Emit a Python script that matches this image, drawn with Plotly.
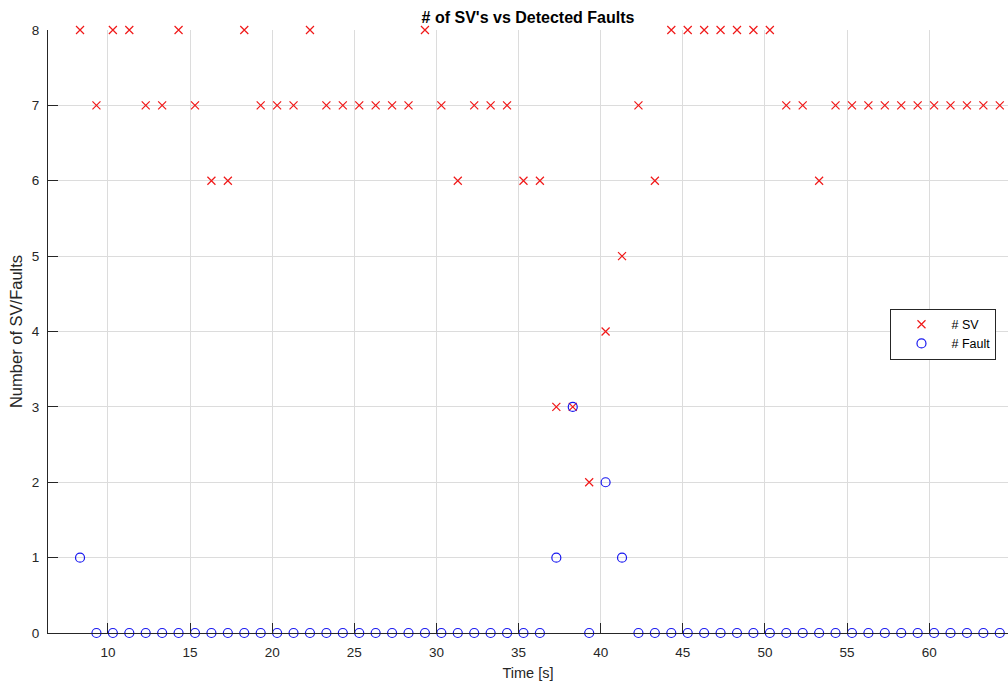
import plotly.graph_objects as go

time_s = [8.3, 9.3, 10.3, 11.3, 12.3, 13.3, 14.3, 15.3, 16.3, 17.3,
          18.3, 19.3, 20.3, 21.3, 22.3, 23.3, 24.3, 25.3, 26.3, 27.3,
          28.3, 29.3, 30.3, 31.3, 32.3, 33.3, 34.3, 35.3, 36.3, 37.3,
          38.3, 39.3, 40.3, 41.3, 42.3, 43.3, 44.3, 45.3, 46.3, 47.3,
          48.3, 49.3, 50.3, 51.3, 52.3, 53.3, 54.3, 55.3, 56.3, 57.3,
          58.3, 59.3, 60.3, 61.3, 62.3, 63.3, 64.3]

num_sv = [8, 7, 8, 8, 7, 7, 8, 7, 6, 6,
          8, 7, 7, 7, 8, 7, 7, 7, 7, 7,
          7, 8, 7, 6, 7, 7, 7, 6, 6, 3,
          3, 2, 4, 5, 7, 6, 8, 8, 8, 8,
          8, 8, 8, 7, 7, 6, 7, 7, 7, 7,
          7, 7, 7, 7, 7, 7, 7]

num_fault = [1, 0, 0, 0, 0, 0, 0, 0, 0, 0,
             0, 0, 0, 0, 0, 0, 0, 0, 0, 0,
             0, 0, 0, 0, 0, 0, 0, 0, 0, 1,
             3, 0, 2, 1, 0, 0, 0, 0, 0, 0,
             0, 0, 0, 0, 0, 0, 0, 0, 0, 0,
             0, 0, 0, 0, 0, 0, 0]

x_ticks = [10, 15, 20, 25, 30, 35, 40, 45, 50, 55, 60]
y_ticks = [0, 1, 2, 3, 4, 5, 6, 7, 8]

FONT = "Liberation Sans, Arial, Helvetica, sans-serif"
AX = "#262626"

fig = go.Figure()
fig.add_trace(go.Scatter(
    x=time_s, y=num_sv, mode="markers", name="# SV", cliponaxis=False,
    marker=dict(symbol="x-thin-open", size=8, color="#f01818",
                line=dict(color="#f01818", width=1.2)),
))
fig.add_trace(go.Scatter(
    x=time_s, y=num_fault, mode="markers", name="# Fault", cliponaxis=False,
    marker=dict(symbol="circle-open", size=9, color="#1818f0",
                line=dict(color="#1818f0", width=1.2)),
))

fig.update_layout(
    width=1008, height=685,
    margin=dict(l=48, r=0, t=30, b=52),
    paper_bgcolor="white", plot_bgcolor="white",
    font=dict(family=FONT, color=AX, size=13.5),
    title=dict(text="<b># of SV's vs Detected Faults</b>", x=0.5, xref="paper",
               xanchor="center", y=1 - 17 / 685, yanchor="middle",
               font=dict(family=FONT, size=16, color="#000000")),
    showlegend=True,
    legend=dict(x=0.988, xanchor="right", y=0.538, yanchor="top",
                bgcolor="white", bordercolor=AX, borderwidth=1,
                font=dict(family=FONT, size=12.5, color="#000000"),
                tracegroupgap=0, itemwidth=50),
    xaxis=dict(
        range=[6.35, 64.8], tickvals=x_ticks, ticktext=[str(v) for v in x_ticks],
        showgrid=True, gridcolor="#dcdcdc", gridwidth=1,
        showline=True, linecolor=AX, linewidth=1,
        ticks="inside", ticklen=10, tickcolor=AX, tickwidth=1,
        ticklabelstandoff=7, zeroline=False,
        title=dict(text="Time [s]", standoff=8,
                   font=dict(family=FONT, size=14.5, color=AX)),
    ),
    yaxis=dict(
        range=[0, 8], tickvals=y_ticks, ticktext=[str(v) for v in y_ticks],
        showgrid=True, gridcolor="#dcdcdc", gridwidth=1,
        showline=True, linecolor=AX, linewidth=1,
        ticks="inside", ticklen=10, tickcolor=AX, tickwidth=1,
        ticklabelstandoff=5, zeroline=False,
        title=dict(text="Number of SV/Faults", standoff=5,
                   font=dict(family=FONT, size=16.5, color=AX)),
    ),
)

fig.write_html("out.html")
